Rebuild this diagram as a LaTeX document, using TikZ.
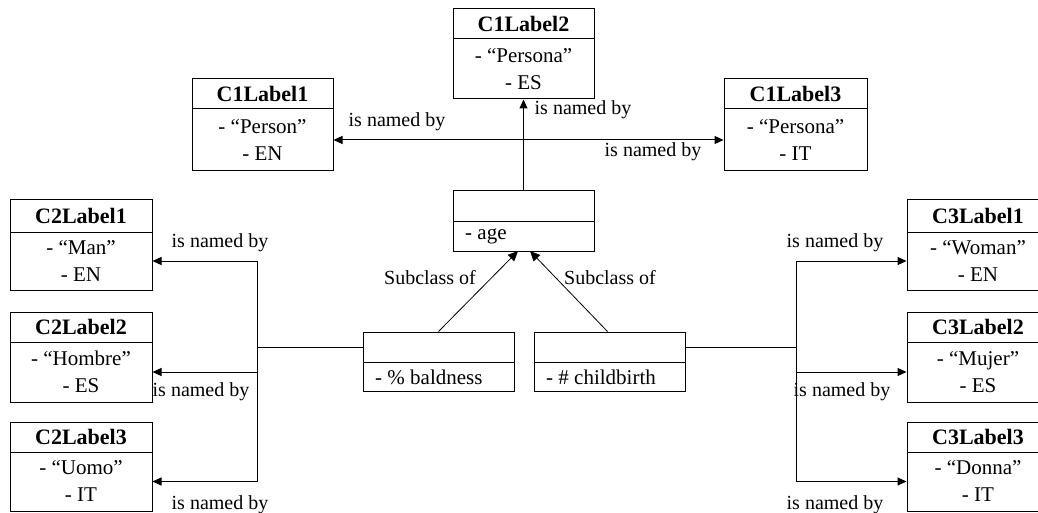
\documentclass[tikz,border=0pt]{standalone}
\usepackage{fontspec}
\setmainfont{Liberation Serif}
\usetikzlibrary{arrows.meta}
\tikzset{
  ubox/.style={draw, line width=1pt, inner sep=0pt, rectangle},
  utitle/.style={font=\fontsize{22}{26}\selectfont\bfseries, inner sep=0pt},
  ubody/.style={font=\fontsize{21}{27}\selectfont, align=center, inner sep=0pt},
  lbl/.style={font=\fontsize{20}{24}\selectfont, inner sep=0pt},
  conn/.style={line width=1pt},
  arr/.style={line width=1pt, -{Triangle[length=9pt,width=8pt]}},
  sub/.style={line width=0.8pt, -{Triangle[length=10pt,width=9pt]}},
}
\newcommand\umlbox[8]{%
  \node[ubox, minimum width={#4-#2}, minimum height={#5-#3}] (#1) at ({(#2+#4)/2},{(#3+#5)/2}) {};
  \draw[line width=1pt] (#2,#6) -- (#4,#6);
  \node[utitle] (#1-t) at ({(#2+#4)/2},{(#3+#6)/2}) {#7};
  \coordinate (#1-b) at ({(#2+#4)/2},{(#6+#5)/2});
  \node[ubody] (#1-x) at (#1-b) {#8};
}
\begin{document}
\begin{tikzpicture}[x=1pt,y=-1pt]
\useasboundingbox (0,0) rectangle (1038,513);
% top
\umlbox{cla}{192}{79}{333}{171}{109}{C1Label1}{- “Person”\\- EN}
\umlbox{clb}{453}{9}{594}{99}{39}{C1Label2}{- “Persona”\\- ES}
\umlbox{clc}{724}{79}{867}{171}{109}{C1Label3}{- “Persona”\\- IT}
% center person class
\umlbox{pers}{453}{191}{594}{251}{221}{}{}
\node[ubody, anchor=west] (pers-a) at (465,236) {- age};
% subclasses
\umlbox{bald}{363}{332}{514}{391}{362}{}{}
\node[ubody, anchor=west] (bald-a) at (375,377) {- \% baldness};
\umlbox{chld}{534}{332}{685}{391}{362}{}{}
\node[ubody, anchor=west] (chld-a) at (546,377) {- \# childbirth};
% left labels
\umlbox{cda}{10}{200}{152}{290}{232}{C2Label1}{- “Man”\\- EN}
\umlbox{cdb}{10}{312}{152}{402}{342}{C2Label2}{- “Hombre”\\- ES}
\umlbox{cdc}{10}{422}{152}{511}{452}{C2Label3}{- “Uomo”\\- IT}
% right labels
\umlbox{cea}{907}{200}{1049}{290}{232}{C3Label1}{- “Woman”\\- EN}
\umlbox{ceb}{907}{312}{1049}{402}{342}{C3Label2}{- “Mujer”\\- ES}
\umlbox{cec}{907}{422}{1049}{511}{452}{C3Label3}{- “Donna”\\- IT}

% top connectors
\draw[line width=1pt, {Triangle[length=9pt,width=8pt]}-{Triangle[length=9pt,width=8pt]}] (cla-b -| cla.east) -- (clc-b -| clc.west);
\draw[arr] (pers.north) -- (clb.south);
\node[lbl] (l1) at (397,122) {is named by};
\node[lbl] (l2) at (583,110) {is named by};
\node[lbl] (l3) at (653,152) {is named by};

% subclass connectors
\coordinate (pa) at (518,251);
\coordinate (pb) at (530,251);
\draw[sub] ([xshift=76pt]bald.north west) -- (pa);
\draw[sub] ([xshift=74pt]chld.north west) -- (pb);
\node[lbl] (s1) at (430,278) {Subclass of};
\node[lbl] (s2) at (610,278) {Subclass of};

% left bus
\coordinate (lbus) at (257,347);
\draw[conn] (bald.north west |- lbus) -- (lbus);
\draw[conn] (lbus |- cda-b) -- (lbus |- cdc-b);
\draw[arr] (lbus |- cda-b) -- (cda-b -| cda.east);
\draw[arr] (lbus |- cdb-b) -- (cdb-b -| cdb.east);
\draw[arr] (lbus |- cdc-b) -- (cdc-b -| cdc.east);
\node[lbl] (l4) at (220,243) {is named by};
\node[lbl] (l5) at (201,392) {is named by};
\node[lbl] (l6) at (220,505) {is named by};

% right bus
\coordinate (rbus) at (796,347);
\draw[conn] (chld.north east |- rbus) -- (rbus);
\draw[conn] (rbus |- cea-b) -- (rbus |- cec-b);
\draw[arr] (rbus |- cea-b) -- (cea-b -| cea.west);
\draw[arr] (rbus |- ceb-b) -- (ceb-b -| ceb.west);
\draw[arr] (rbus |- cec-b) -- (cec-b -| cec.west);
\node[lbl] (l7) at (835,243) {is named by};
\node[lbl] (l8) at (842,392) {is named by};
\node[lbl] (l9) at (835,505) {is named by};
\end{tikzpicture}
\end{document}
